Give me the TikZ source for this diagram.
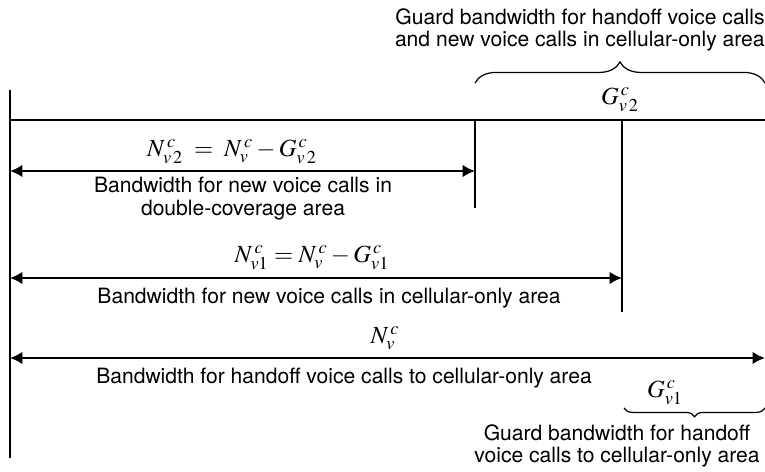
\documentclass[tikz,border=0pt]{standalone}
\usepackage{mathptmx}
\usepackage[no-math]{fontspec}
\setmainfont{TeX Gyre Heros}
\usetikzlibrary{arrows.meta,decorations.pathreplacing}
\tikzstyle{bar} = [line width=0.9pt]
\tikzstyle{span arrow} = [line width=0.9pt,<->,>={Latex[length=7pt,width=7pt]}]
\tikzstyle{label text} = [font=\fontsize{12}{13}\selectfont, align=center, inner sep=0pt]
\tikzstyle{quantity} = [font=\fontsize{14}{16}\selectfont, inner sep=0pt]
\tikzstyle{guard brace} = [line width=0.7pt, decorate]

\begin{document}
\begin{tikzpicture}[x=0.02cm, y=-0.02cm]
        \useasboundingbox (0,0) rectangle (765,472);

        \coordinate (Axtop) at (10,90);
        \coordinate (Axbot) at (10,458);
        \coordinate (Base) at (10,120);
        \coordinate (Baseend) at (765,120);
        \coordinate (Cut2top) at (475,120);
        \coordinate (Cut2bot) at (475,208);
        \coordinate (Cut1top) at (622,120);
        \coordinate (Cut1bot) at (622,312);
        \coordinate (A1l) at (10,171);
        \coordinate (A1r) at (475,171);
        \coordinate (A2l) at (10,278);
        \coordinate (A2r) at (622,278);
        \coordinate (A3l) at (10,358);
        \coordinate (A3r) at (765,358);
        \coordinate (B2l) at (475,83);
        \coordinate (B2r) at (765,83);
        \coordinate (B1l) at (624,408);
        \coordinate (B1r) at (765,408);

        \draw [bar] (Axtop) -- (Axbot);
        \draw [bar] (Base) -- (Baseend);
        \draw [bar] (Cut2top) -- (Cut2bot);
        \draw [bar] (Cut1top) -- (Cut1bot);

        \draw [span arrow] (A1l) -- (A1r);
        \draw [span arrow] (A2l) -- (A2r);
        \draw [span arrow] (A3l) -- (A3r);

        \draw [guard brace, decoration={brace,amplitude=12pt}] (B2l) -- (B2r);
        \draw [guard brace, decoration={brace,amplitude=5pt}] (B1r) -- (B1l);

        \node (Gtwotxt) [label text, anchor=east, align=right] at (765,30) {Guard bandwidth for handoff voice calls\\and new voice calls in cellular-only area};
        \node (Gtwo) [quantity] at (620,100) {$G^{\,c}_{v\,2}$};
        \node (Ntwo) [quantity] at (232,152) {$N^{\,c}_{v\,2}\;=\;N^{\,c}_{v}-G^{\,c}_{v\,2}$};
        \node (Ntwotxt) [label text] at (243,199) {Bandwidth for new voice calls in\\double-coverage area};
        \node (None) [quantity] at (312,258) {$N^{\,c}_{v1}=N^{\,c}_{v}-G^{\,c}_{v1}$};
        \node (Nonetxt) [label text] at (329,298) {Bandwidth for new voice calls in cellular-only area};
        \node (Nv) [quantity] at (385,338) {$N^{\,c}_{v}$};
        \node (Nvtxt) [label text] at (344,378) {Bandwidth for handoff voice calls to cellular-only area};
        \node (Gone) [quantity] at (665,393) {$G^{\,c}_{v1}$};
        \node (Gonetxt) [label text] at (617,446) {Guard bandwidth for handoff\\voice calls to cellular-only area};

    \end{tikzpicture}
\end{document}
